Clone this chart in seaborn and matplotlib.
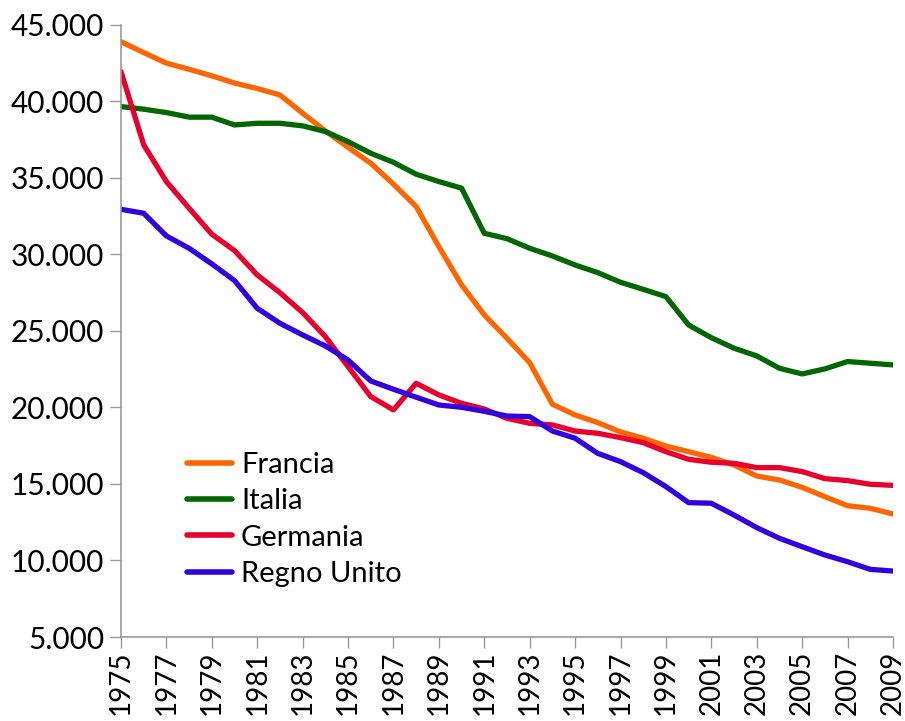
import pandas as pd
import numpy as np
import matplotlib
matplotlib.use('Agg')
import matplotlib.pyplot as plt
import seaborn as sns
from matplotlib.ticker import FuncFormatter

years = list(range(1975, 2010))

francia = [43900, 43190, 42500, 42100, 41670, 41200, 40840, 40420, 39230, 38070,
           37000, 35960, 34590, 33130, 30510, 28010, 26050, 24520, 22930, 20210,
           19510, 19010, 18400, 17990, 17480, 17110, 16740, 16240, 15520, 15260,
           14780, 14170, 13580, 13410, 13040]
italia = [39660, 39490, 39270, 38970, 38970, 38460, 38570, 38570, 38400, 38030,
          37370, 36610, 36020, 35240, 34760, 34330, 31380, 31030, 30400, 29900,
          29310, 28810, 28180, 27720, 27240, 25390, 24560, 23870, 23370, 22560,
          22190, 22520, 23000, 22890, 22780]
germania = [41950, 37160, 34760, 33020, 31320, 30250, 28660, 27500, 26200, 24630,
            22670, 20710, 19840, 21580, 20820, 20270, 19900, 19290, 18960, 18860,
            18460, 18310, 18030, 17700, 17110, 16610, 16420, 16350, 16070, 16070,
            15810, 15350, 15220, 14980, 14910]
regno_unito = [32950, 32690, 31210, 30400, 29380, 28290, 26480, 25500, 24740, 24020,
               23100, 21730, 21190, 20670, 20160, 20010, 19750, 19440, 19400, 18460,
               17990, 17000, 16460, 15740, 14830, 13780, 13740, 12970, 12150, 11450,
               10900, 10360, 9920, 9420, 9310]

paesi = ['Francia', 'Italia', 'Germania', 'Regno Unito']
colori = ['#FF6600', '#006600', '#E8002C', '#3300DD']

df = pd.DataFrame({'anno': years, 'Francia': francia, 'Italia': italia,
                   'Germania': germania, 'Regno Unito': regno_unito})
df = df.melt(id_vars='anno', var_name='paese', value_name='valore')

sns.set_style('white')
plt.rcParams['font.family'] = ['Lato', 'DejaVu Sans']
plt.rcParams['text.color'] = 'black'

fig = plt.figure(figsize=(9.05, 7.21), dpi=100)
ax = fig.add_axes([0.1337, 0.1165, 0.853, 0.849])

sns.lineplot(data=df, x='anno', y='valore', hue='paese', hue_order=paesi,
             palette=dict(zip(paesi, colori)), linewidth=3.8, ax=ax)

ax.set_xlim(1975, 2009)
ax.set_ylim(5000, 45000)
ax.set_xticks(range(1975, 2010, 2))
ax.set_yticks(range(5000, 45001, 5000))
ax.yaxis.set_major_formatter(FuncFormatter(lambda v, p: f'{int(v):,}'.replace(',', '.')))
ax.tick_params(axis='both', direction='out', length=8, width=1, color='#999999',
               labelcolor='black', pad=4, left=True, bottom=True)
ax.tick_params(axis='y', labelsize=21.5)
ax.tick_params(axis='x', labelrotation=90, labelsize=20, pad=2)
ax.set_xlabel('')
ax.set_ylabel('')
for s in ['top', 'right']:
    ax.spines[s].set_visible(False)
for s in ['left', 'bottom']:
    ax.spines[s].set_color('#999999')
    ax.spines[s].set_linewidth(1.2)

leg = ax.legend(loc='upper left', bbox_to_anchor=(0.0855, 0.302), frameon=False,
                fontsize=21, handlelength=1.55, handletextpad=0.3, labelspacing=0.35,
                borderpad=0, borderaxespad=0, labelcolor='black')
for line in leg.get_lines():
    line.set_linewidth(4)

fig.savefig('out.png', dpi=100)
